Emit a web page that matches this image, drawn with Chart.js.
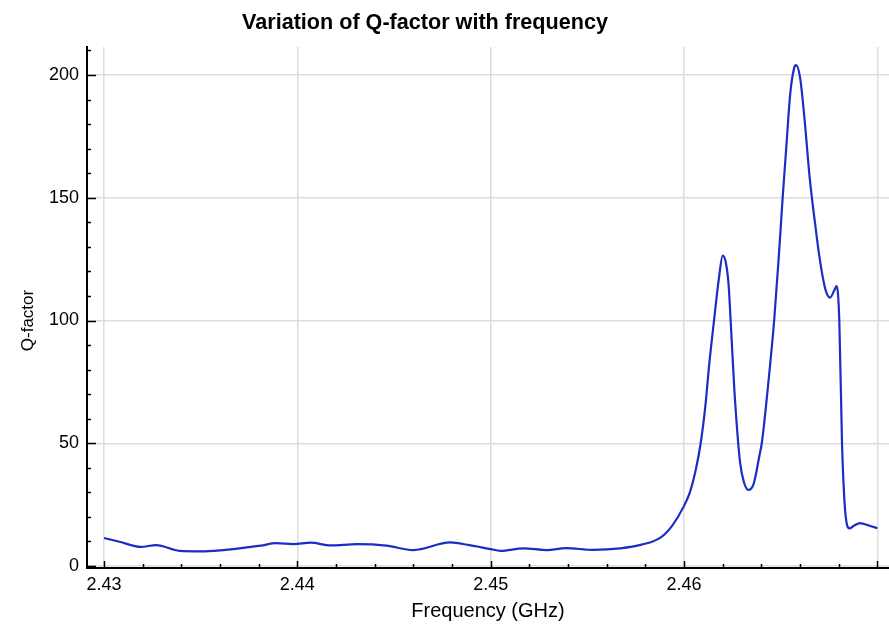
<!DOCTYPE html>
<html>
<head>
<meta charset="utf-8">
<script src="https://cdn.jsdelivr.net/npm/chart.js@4.4.0/dist/chart.umd.min.js"></script>
<style>
  html, body { margin: 0; padding: 0; background: #fff; }
  #wrap { width: 889px; height: 627px; }
</style>
</head>
<body>
<div id="wrap"><canvas id="mainchart" width="889" height="627"></canvas></div>
<script>
const ctx = document.getElementById('mainchart');

/* Values */
const freq_ghz = [
  2.4300, 2.4308, 2.4319, 2.4327, 2.4339, 2.4350, 2.4360, 2.4370, 2.4381, 2.4389,
  2.4398, 2.4407, 2.4417, 2.4431, 2.4446, 2.4460, 2.4479, 2.4489, 2.4500, 2.4505,
  2.4517, 2.4529, 2.4539, 2.4553, 2.4567, 2.4578, 2.4588, 2.4594,
  2.4600, 2.4603, 2.4606, 2.46086, 2.4611, 2.4613, 2.46155, 2.4618, 2.4620, 2.46215,
  2.4623, 2.46241, 2.4626, 2.46275, 2.4629, 2.4631, 2.46333, 2.4636, 2.4639, 2.46402,
  2.4643, 2.46466, 2.4649, 2.4651, 2.4653, 2.4655, 2.4657, 2.46579, 2.4660, 2.46622,
  2.4665, 2.4668, 2.4670, 2.4673, 2.46755, 2.4678, 2.46789, 2.46803, 2.46817, 2.4683,
  2.46842, 2.46855, 2.4688, 2.4691, 2.4696, 2.4700
];
const q_factor = [
  11.4, 9.9, 7.8, 8.5, 6.2, 6.0, 6.4, 7.2, 8.3, 9.3,
  8.9, 9.5, 8.4, 8.9, 8.3, 6.5, 9.6, 8.5, 6.9, 6.2,
  7.2, 6.5, 7.3, 6.6, 7.2, 8.7, 11.7, 16.6,
  24.5, 30.0, 39.0, 50.0, 65.0, 82.0, 100.0, 117.0, 126.4, 124.0,
  115.0, 100.0, 72.0, 55.0, 42.0, 34.0, 31.0, 33.5, 45.0, 50.0,
  70.0, 100.0, 126.0, 150.0, 172.0, 193.0, 203.0, 204.0, 199.0, 183.0,
  158.0, 138.0, 126.0, 113.0, 109.3, 112.8, 114.0, 100.0, 50.0, 26.0,
  17.0, 15.3, 16.5, 17.5, 16.4, 15.4
];

const x_major = [2.43, 2.44, 2.45, 2.46, 2.47];
const x_labels = ['2.43', '2.44', '2.45', '2.46', ''];
const y_major = [0, 50, 100, 150, 200];
const y_labels = ['0', '50', '100', '150', '200'];

const chart_title = 'Variation of Q-factor with frequency';
const x_title = 'Frequency (GHz)';
const y_title = 'Q-factor';

const FONT = '"Liberation Sans", Arial, Helvetica, sans-serif';

/* Inward ticks, the y title and the chart title, drawn on top */
const axis_decor = {
  id: 'axis_decor',
  afterDraw(chart) {
    const c = chart.ctx;
    const xs = chart.scales.x;
    const ys = chart.scales.y;
    const area = chart.chartArea;
    c.save();
    c.strokeStyle = '#000';
    c.lineWidth = 1.5;
    c.beginPath();
    for (let i = 0; i <= 20; i++) {
      var v = 2.43 + i * 0.002;
      var px = Math.round(xs.getPixelForValue(v)) + 0.5;
      var len = (i % 5 === 0) ? 7 : 4;
      c.moveTo(px, area.bottom);
      c.lineTo(px, area.bottom - len);
    }
    for (let i = 0; i <= 21; i++) {
      var v = i * 10;
      var py = Math.round(ys.getPixelForValue(v)) + 0.5;
      var len = (i % 5 === 0) ? 9 : 4;
      c.moveTo(area.left, py);
      c.lineTo(area.left + len, py);
    }
    c.stroke();

    c.fillStyle = '#000';
    c.font = 'bold 21.6px ' + FONT;
    c.textAlign = 'center';
    c.textBaseline = 'alphabetic';
    c.fillText(chart_title, 425, 29);

    /* y title sits level with the 100 line in the reference */
    c.font = '17px ' + FONT;
    c.translate(28, ys.getPixelForValue(100));
    c.rotate(-Math.PI / 2);
    c.textBaseline = 'middle';
    c.fillText(y_title, 0, 0);
    c.restore();
  }
};

const config = {
  type: 'line',
  data: {
    datasets: [{
      data: freq_ghz.map((f, i) => ({x: f, y: q_factor[i]})),
      borderColor: '#1a2ec4',
      borderWidth: 2.2,
      pointRadius: 0,
      fill: false,
      cubicInterpolationMode: 'monotone'
    }]
  },
  options: {
    responsive: false,
    animation: false,
    devicePixelRatio: 1,
    layout: { padding: { top: 47, right: 0, left: 0, bottom: 0 } },
    plugins: {
      legend: false,
      title: { display: false },
      tooltip: { enabled: false }
    },
    scales: {
      x: {
        type: 'linear',
        min: 2.42912,
        max: 2.47060,
        afterBuildTicks: (scale) => { scale.ticks = x_major.map(v => ({value: v})); },
        afterFit: (scale) => { scale.height = 59; },
        ticks: {
          autoSkip: false,
          maxRotation: 0,
          padding: 6,
          color: '#000',
          font: { family: FONT, size: 18 },
          callback: (val, idx) => x_labels[idx]
        },
        grid: { color: '#dddddd', lineWidth: 1.5, drawTicks: false },
        border: { display: true, color: '#000', width: 2 },
        title: {
          display: true,
          text: x_title,
          color: '#000',
          font: { family: FONT, size: 20 },
          padding: { top: 0, bottom: 4 }
        }
      },
      y: {
        type: 'linear',
        min: -0.8,
        max: 211.4,
        afterBuildTicks: (scale) => { scale.ticks = y_major.map(v => ({value: v})); },
        afterFit: (scale) => { scale.width = 87; },
        ticks: {
          padding: 8,
          color: '#000',
          font: { family: FONT, size: 18 },
          callback: (val, idx) => y_labels[idx]
        },
        grid: { color: '#dddddd', lineWidth: 1.5, drawTicks: false },
        border: { display: true, color: '#000', width: 2 },
        title: { display: false }
      }
    }
  },
  plugins: [axis_decor]
};

var mainchart = new Chart(ctx, config);
</script>
</body>
</html>
